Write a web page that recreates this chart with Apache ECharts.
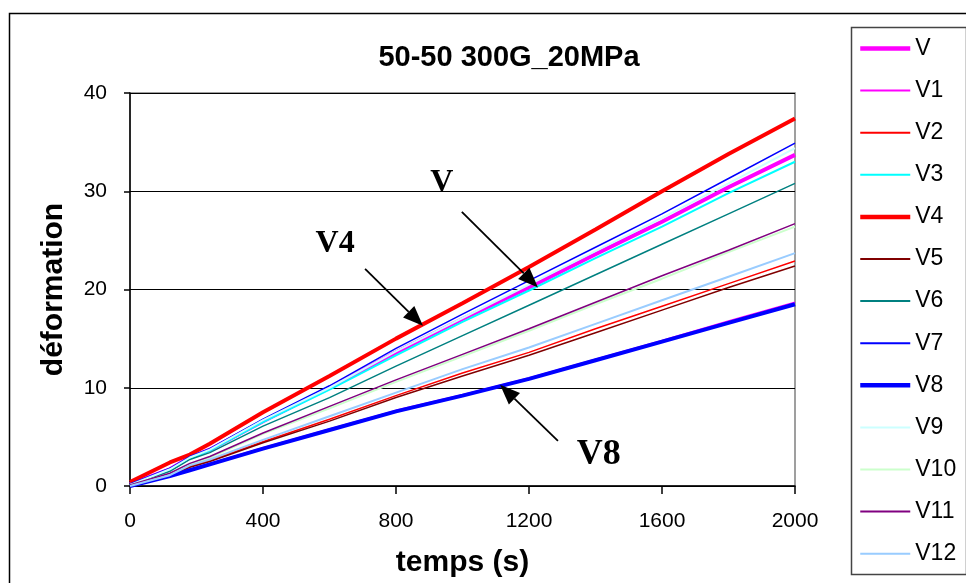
<!DOCTYPE html>
<html>
<head>
<meta charset="utf-8">
<script src="https://cdn.jsdelivr.net/npm/echarts@6/dist/echarts.min.js"></script>
<style>
html,body{margin:0;padding:0;background:#fff;}
#chart{width:966px;height:583px;}
</style>
</head>
<body>
<div id="chart"></div>
<script>
// time (s)
const times = [0, 120, 180, 240, 400, 600, 800, 1000, 1200, 1400, 1600, 1800, 2000];
const seriesNames = ['V','V1','V2','V3','V4','V5','V6','V7','V8','V9','V10','V11','V12'];
const vV   = [0.2, 1.7, 2.9, 3.7, 6.6, 10.0, 13.6, 17.0, 20.2, 23.6, 26.9, 30.4, 33.7];
const vV1  = [0.0, 1.1, 1.7, 2.3, 3.9, 5.8, 7.7, 9.3, 11.0, 12.9, 14.8, 16.8, 18.7];
const vV2  = [0.0, 1.0, 2.0, 2.6, 4.5, 6.8, 9.2, 11.5, 13.6, 16.0, 18.3, 20.6, 22.9];
const vV3  = [0.1, 1.6, 2.8, 3.6, 6.5, 9.8, 13.3, 16.7, 19.9, 23.2, 26.4, 29.8, 33.0];
const vV4  = [0.4, 2.4, 3.2, 4.3, 7.5, 11.2, 15.0, 18.6, 22.3, 26.1, 30.0, 33.8, 37.4];
const vV5  = [0.0, 1.0, 1.9, 2.5, 4.4, 6.6, 9.0, 11.2, 13.3, 15.6, 17.9, 20.2, 22.4];
const vV6  = [0.1, 1.5, 2.7, 3.4, 6.1, 9.0, 12.2, 15.3, 18.4, 21.5, 24.6, 27.7, 30.8];
const vV7  = [0.2, 1.8, 3.0, 3.8, 6.8, 10.2, 14.0, 17.5, 20.9, 24.3, 27.7, 31.3, 34.9];
const vV8  = [0.0, 1.0, 1.6, 2.2, 3.8, 5.7, 7.6, 9.2, 10.9, 12.8, 14.7, 16.6, 18.5];
const vV9  = [0.1, 1.7, 2.9, 3.7, 6.7, 10.0, 13.7, 17.1, 20.5, 23.9, 27.3, 30.8, 34.4];
const vV10 = [0.1, 1.2, 2.2, 2.9, 5.3, 7.9, 10.6, 13.2, 15.8, 18.5, 21.1, 23.8, 26.4];
const vV11 = [0.1, 1.3, 2.3, 3.0, 5.4, 8.1, 10.8, 13.4, 16.0, 18.7, 21.4, 24.0, 26.7];
const vV12 = [0.0, 1.1, 2.1, 2.7, 4.7, 7.1, 9.5, 11.9, 14.1, 16.5, 18.9, 21.3, 23.7];
const yTicks = [0, 10, 20, 30, 40];
const xTicks = [0, 400, 800, 1200, 1600, 2000];
// annotations in data coordinates: label position, arrow tail, arrow tip
const annLabels = ['V4', 'V', 'V8'];
const annLabelPos = [[617, 24.7], [938, 30.9], [1410, 3.2]];
const annTail = [[707, 22.1], [998, 27.9], [1287, 4.6]];
const annTip = [[881, 16.3], [1227, 20.2], [1113, 10.3]];

const allValues = [vV, vV1, vV2, vV3, vV4, vV5, vV6, vV7, vV8, vV9, vV10, vV11, vV12];
const colors = ['#ff00ff','#ff00ff','#ff0000','#00ffff','#ff0000','#800000','#008080','#0000ff','#0000ff','#ccffff','#ccffcc','#800080','#99ccff'];
const widths = [4, 1.5, 1.5, 2, 4, 1.5, 1.5, 1.5, 4, 2, 2, 1.5, 2];

const chart = echarts.init(document.getElementById('chart'), null, {renderer: 'canvas'});
const FONT = "'Liberation Sans', Arial, sans-serif";

const series = seriesNames.map((n, i) => ({
  name: n,
  type: 'line',
  data: times.map((t, j) => [t, allValues[i][j]]),
  showSymbol: false,
  symbol: 'none',
  lineStyle: {color: colors[i], width: widths[i]},
  itemStyle: {color: colors[i]},
  emphasis: {disabled: true},
  animation: false
}));

const base = [
  {type: 'rect', left: 7, top: 11, shape: {width: 1000, height: 1000}, style: {fill: 'none', stroke: '#000', lineWidth: 1.5}, silent: true, z: -1},
  {type: 'rect', left: 849, top: 25, shape: {width: 115, height: 547}, style: {fill: 'none', stroke: '#444', lineWidth: 1.5}, silent: true}
];

chart.setOption({
  animation: false,
  backgroundColor: '#fff',
  title: {
    text: '50-50 300G_20MPa',
    left: 504, top: 38, textAlign: 'center',
    textStyle: {fontFamily: FONT, fontSize: 29, fontWeight: 'bold', color: '#000'}
  },
  grid: {left: 130, top: 93, right: 171, bottom: 95, show: true, borderColor: '#808080', borderWidth: 1.5, backgroundColor: 'transparent'},
  xAxis: {
    type: 'value', min: 0, max: 2000, interval: 400,
    name: 'temps (s)', nameLocation: 'middle', nameGap: 62,
    nameTextStyle: {fontFamily: FONT, fontSize: 30, fontWeight: 'bold', color: '#000'},
    axisLine: {lineStyle: {color: '#000', width: 1.5}},
    axisTick: {show: true, length: 8, inside: false, lineStyle: {color: '#000', width: 1.5}},
    axisLabel: {fontFamily: FONT, fontSize: 21, color: '#000', margin: 25, formatter: v => String(v)},
    splitLine: {show: false}
  },
  yAxis: {
    type: 'value', min: 0, max: 40, interval: 10,
    name: 'déformation', nameLocation: 'middle', nameGap: 61,
    nameTextStyle: {fontFamily: FONT, fontSize: 30, fontWeight: 'bold', color: '#000'},
    axisLine: {show: true, lineStyle: {color: '#000', width: 1.5}},
    axisTick: {show: true, length: 6, inside: false, lineStyle: {color: '#000', width: 1.5}},
    axisLabel: {fontFamily: FONT, fontSize: 21, color: '#000', margin: 23, formatter: v => String(v)},
    splitLine: {show: true, lineStyle: {color: '#000', width: 1.2}}
  },
  legend: {
    type: 'plain', orient: 'vertical', left: 858, top: 37, padding: 0,
    width: 110, height: 540,
    itemWidth: 50, itemHeight: 23, itemGap: 19.1,
    itemStyle: {opacity: 0, borderWidth: 0},
    data: seriesNames.map((n, i) => ({name: n, itemStyle: {opacity: 0, borderWidth: 0}, lineStyle: {width: widths[i] >= 4 ? 4.5 : 2, color: colors[i]}})),
    textStyle: {fontFamily: FONT, fontSize: 23, color: '#000'},
    selectedMode: false
  },
  series: series,
  graphic: base
});

// annotations (arrows + labels) placed via the chart's own coordinate conversion
const ann = [];
for (let i = 0; i < annLabels.length; i++) {
  const lp = chart.convertToPixel({gridIndex: 0}, annLabelPos[i]);
  const tp = chart.convertToPixel({gridIndex: 0}, annTail[i]);
  const hp = chart.convertToPixel({gridIndex: 0}, annTip[i]);
  const fs = annLabels[i] === 'V8' ? 36 : 32;
  ann.push({type: 'text', x: lp[0], y: lp[1], z: 100,
    style: {text: annLabels[i], font: 'bold ' + fs + "px 'Liberation Serif', 'Times New Roman', serif", fill: '#000', align: 'center', verticalAlign: 'middle'}});
  const dx = hp[0] - tp[0], dy = hp[1] - tp[1];
  const len = Math.sqrt(dx*dx + dy*dy);
  const ux = dx/len, uy = dy/len;
  const headLen = 20, headW = 8;
  const bx = hp[0] - ux*headLen, by = hp[1] - uy*headLen;
  ann.push({type: 'line', z: 100, shape: {x1: tp[0], y1: tp[1], x2: bx, y2: by}, style: {stroke: '#000', lineWidth: 1.8}});
  ann.push({type: 'polygon', z: 100, shape: {points: [[hp[0], hp[1]], [bx - uy*headW, by + ux*headW], [bx + uy*headW, by - ux*headW]]}, style: {fill: '#000'}});
}
chart.setOption({graphic: base.concat(ann)}, {replaceMerge: ['graphic']});
</script>
</body>
</html>
